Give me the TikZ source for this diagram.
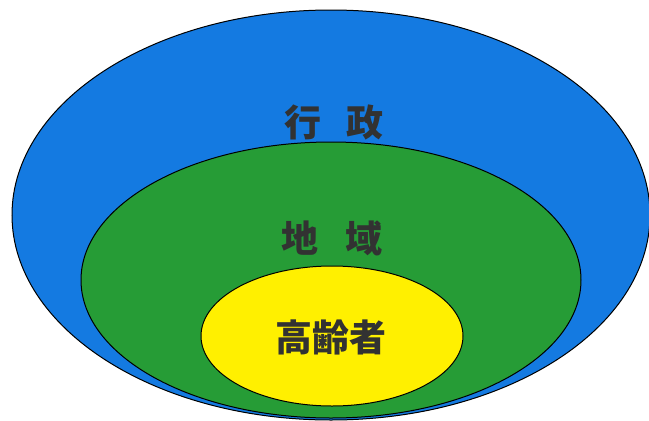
\documentclass[tikz,border=0pt]{standalone}
\usepackage{fontspec}
\newfontfamily\jpfont{Noto Sans CJK JP Black}
\usetikzlibrary{shapes,positioning}
\definecolor{gyoseiblue}{RGB}{20,122,225}
\definecolor{chiikigreen}{RGB}{38,156,54}
\definecolor{koreiyellow}{RGB}{255,240,0}
\definecolor{moji}{RGB}{50,50,50}

\begin{document}
\begin{tikzpicture}[x=1pt,y=-1pt,
  every node/.style={inner sep=0pt},
  ring/.style={ellipse,draw=black,line width=1pt},
  lbl/.style={font=\jpfont\fontsize{37}{37}\selectfont,text=moji}]

\useasboundingbox (0,0) rectangle (649,421);
\clip (0,0) rectangle (649,421);

% nested circles
\node (gyosei) [ring,fill=gyoseiblue,minimum width=638pt,minimum height=410pt] at (331,215) {};
\node (chiiki) [ring,fill=chiikigreen,minimum width=500pt,minimum height=276pt] at (331,280) {};
\node (koreisha) [ring,fill=koreiyellow,minimum width=262pt,minimum height=140pt] at (332,336) {};

% labels
\node (tgyosei) [lbl] at (334,122) {行\hspace{25pt}政};
\node (tchiiki) [lbl] at (332,238) {地\hspace{27pt}域};
\node (tkoreisha) [lbl] at (331,337) {高齢者};

\end{tikzpicture}
\end{document}
